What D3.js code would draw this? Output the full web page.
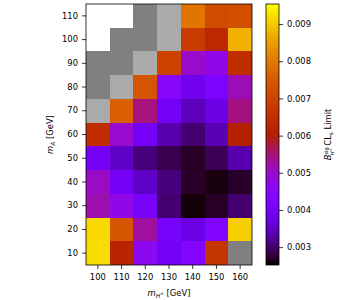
<!DOCTYPE html>
<html>
<head>
<meta charset="utf-8">
<script src="https://cdn.jsdelivr.net/npm/d3@7"></script>
<style>
  body { margin: 0; background: #fff; }
  text { font-family: "DejaVu Sans", sans-serif; }
</style>
</head>
<body>
<svg id="chart" width="341" height="300"></svg>
<script>
// charged higgs mass (columns) and A mass (rows)
var mHc = [100, 110, 120, 130, 140, 150, 160];
var mA = [110, 100, 90, 80, 70, 60, 50, 40, 30, 20, 10];

// limit values, one row per mA (top to bottom); null where not computed
var limits = [
  [null, null, null, null, 0.00794, 0.00719, 0.00728],
  [null, null, null, null, 0.00684, 0.00634, 0.00874],
  [null, null, null, 0.00701, 0.00501, 0.00476, 0.00650],
  [null, null, 0.00737, 0.00452, 0.00388, 0.00418, 0.00515],
  [null, 0.00755, 0.00547, 0.00397, 0.00343, 0.00378, 0.00543],
  [0.00650, 0.00498, 0.00399, 0.00336, 0.00302, 0.00340, 0.00602],
  [0.00399, 0.00352, 0.00308, 0.00286, 0.00269, 0.00291, 0.00336],
  [0.00505, 0.00399, 0.00352, 0.00308, 0.00270, 0.00258, 0.00270],
  [0.00519, 0.00476, 0.00407, 0.00302, 0.00256, 0.00269, 0.00302],
  [0.00916, 0.00737, 0.00528, 0.00407, 0.00378, 0.00429, 0.00906],
  [0.00920, 0.00617, 0.00463, 0.00399, 0.00440, 0.00667, null]
];

// state of the empty cells: 0 = value, 1 = gray, 2 = light gray, 3 = blank
var cellState = [
  [3, 3, 1, 2, 0, 0, 0],
  [3, 1, 1, 2, 0, 0, 0],
  [1, 1, 2, 0, 0, 0, 0],
  [1, 2, 0, 0, 0, 0, 0],
  [2, 0, 0, 0, 0, 0, 0],
  [0, 0, 0, 0, 0, 0, 0],
  [0, 0, 0, 0, 0, 0, 0],
  [0, 0, 0, 0, 0, 0, 0],
  [0, 0, 0, 0, 0, 0, 0],
  [0, 0, 0, 0, 0, 0, 0],
  [0, 0, 0, 0, 0, 0, 1]
];

var cbTicks = [0.003, 0.004, 0.005, 0.006, 0.007, 0.008, 0.009];
var vmin = 0.00252, vmax = 0.00954;

var plot = { left: 86, right: 252, top: 4, bottom: 265 };
var bar = { left: 266, right: 279 };
var fontSize = 8.4;

// matplotlib "gnuplot" colour map
function gnuplot(t) {
  t = Math.max(0, Math.min(1, t));
  var r = Math.sqrt(t);
  var g = Math.pow(t, 3);
  var b = Math.max(0, Math.sin(2 * Math.PI * t));
  return d3.rgb(r * 255, g * 255, b * 255).formatHex();
}
var color = d3.scaleSequential(gnuplot).domain([vmin, vmax]);
var flatColors = { 1: "#808080", 2: "#aaaaaa", 3: "#ffffff" };

var svg = d3.select("#chart");

var x = d3.scaleBand().domain(mHc).range([plot.left, plot.right]).padding(0);
var y = d3.scaleBand().domain(mA).range([plot.top, plot.bottom]).padding(0);

var cells = [];
mA.forEach(function(a, i) {
  mHc.forEach(function(h, j) {
    cells.push({ h: h, a: a, v: limits[i][j], s: cellState[i][j] });
  });
});

svg.append("g")
  .selectAll("rect")
  .data(cells)
  .enter().append("rect")
    .attr("x", d => x(d.h))
    .attr("y", d => y(d.a))
    .attr("width", x.bandwidth() + 0.3)
    .attr("height", y.bandwidth() + 0.3)
    .attr("shape-rendering", "crispEdges")
    .attr("fill", d => d.s > 0 ? flatColors[d.s] : color(d.v));

// axes
var xAxis = svg.append("g")
  .attr("transform", "translate(0," + plot.bottom + ")")
  .call(d3.axisBottom(x).tickSize(4).tickPadding(5).tickSizeOuter(0));
var yAxis = svg.append("g")
  .attr("transform", "translate(" + plot.left + ",0)")
  .call(d3.axisLeft(y).tickSize(4).tickPadding(4).tickSizeOuter(0));

[xAxis, yAxis].forEach(function(g) {
  g.select(".domain").remove();
  g.selectAll("text").attr("font-size", fontSize).attr("fill", "#000")
    .style("font-family", "DejaVu Sans");
  g.selectAll("line").attr("stroke", "#000").attr("stroke-width", 0.8);
});

svg.append("rect")
  .attr("x", plot.left).attr("y", plot.top)
  .attr("width", plot.right - plot.left)
  .attr("height", plot.bottom - plot.top)
  .attr("fill", "none").attr("stroke", "#000").attr("stroke-width", 0.8);

// axis labels
var xl = svg.append("text")
  .attr("x", (plot.left + plot.right) / 2)
  .attr("y", 296)
  .attr("text-anchor", "middle")
  .attr("font-size", fontSize);
xl.append("tspan").attr("font-style", "italic").text("m");
xl.append("tspan").attr("font-style", "italic").attr("font-size", fontSize * 0.7).attr("dy", 2).text("H");
xl.append("tspan").attr("font-size", fontSize * 0.55).attr("dy", -3.5).text("±");
xl.append("tspan").attr("dy", 1.5).text(" [GeV]");

var yl = svg.append("text")
  .attr("transform", "translate(53," + ((plot.top + plot.bottom) / 2) + ") rotate(-90)")
  .attr("text-anchor", "middle")
  .attr("font-size", fontSize);
yl.append("tspan").attr("font-style", "italic").text("m");
yl.append("tspan").attr("font-style", "italic").attr("font-size", fontSize * 0.7).attr("dy", 2).text("A");
yl.append("tspan").attr("dy", -2).text(" [GeV]");

// colour bar
var defs = svg.append("defs");
var grad = defs.append("linearGradient")
  .attr("id", "cbgrad")
  .attr("x1", 0).attr("y1", 1).attr("x2", 0).attr("y2", 0);
d3.range(0, 1.0001, 0.02).forEach(function(t) {
  grad.append("stop").attr("offset", t).attr("stop-color", gnuplot(t));
});

svg.append("rect")
  .attr("x", bar.left).attr("y", plot.top)
  .attr("width", bar.right - bar.left)
  .attr("height", plot.bottom - plot.top)
  .attr("fill", "url(#cbgrad)")
  .attr("stroke", "#000").attr("stroke-width", 0.8);

var cbScale = d3.scaleLinear().domain([vmin, vmax]).range([plot.bottom, plot.top]);
var cbAxis = svg.append("g")
  .attr("transform", "translate(" + bar.right + ",0)")
  .call(d3.axisRight(cbScale).tickValues(cbTicks).tickFormat(d3.format(".3f"))
    .tickSize(4).tickPadding(4).tickSizeOuter(0));
cbAxis.select(".domain").remove();
cbAxis.selectAll("text").attr("font-size", fontSize).attr("fill", "#000")
  .style("font-family", "DejaVu Sans");
cbAxis.selectAll("line").attr("stroke", "#000").attr("stroke-width", 0.8);

var cl = svg.append("text")
  .attr("transform", "translate(331," + ((plot.top + plot.bottom) / 2) + ") rotate(-90)")
  .attr("text-anchor", "middle")
  .attr("font-size", fontSize);
cl.append("tspan").attr("font-style", "italic").text("B");
cl.append("tspan").attr("font-size", fontSize * 0.6).attr("dy", -3.5).text("sig");
cl.append("tspan").attr("font-style", "italic").attr("font-size", fontSize * 0.6).attr("dx", -8).attr("dy", 6.5).text("H");
cl.append("tspan").attr("font-size", fontSize * 0.45).attr("dy", -2).text("+");
cl.append("tspan").attr("dy", -1).text(" CL");
cl.append("tspan").attr("font-size", fontSize * 0.7).attr("dy", 2).text("s");
cl.append("tspan").attr("dy", -2).text(" Limit");
</script>
</body>
</html>
